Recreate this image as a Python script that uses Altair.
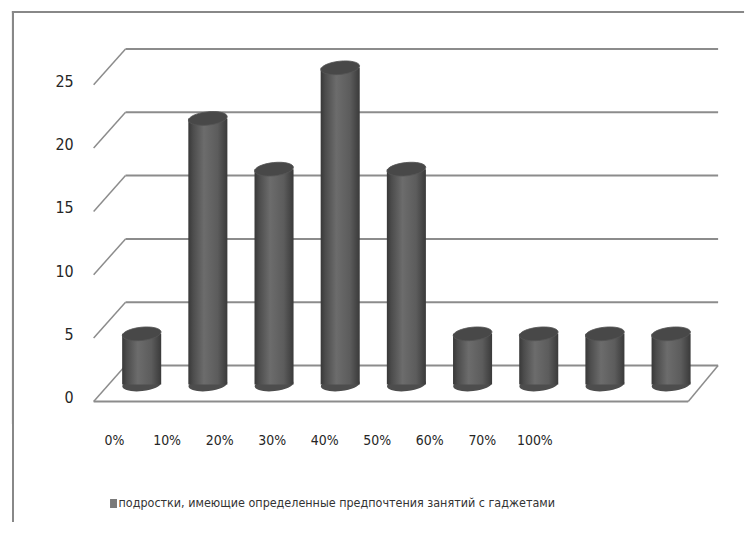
import altair as alt
import pandas as pd

categories = ["0%", "10%", "20%", "30%", "40%", "50%", "60%", "70%", "100%"]
values = [4, 21, 17, 25, 17, 4, 4, 4, 4]
ticks = [0, 5, 10, 15, 20, 25]
series_name = "подростки, имеющие определенные предпочтения занятий с гаджетами"

df = pd.DataFrame({"category": categories, "value": values})
tick_df = pd.DataFrame({"tick": ticks})

FONT = "Liberation Sans Narrow, DejaVu Sans Condensed, Arial Narrow, sans-serif"
GRID = "#8c8c8c"
W = 738
H1 = 415
H2 = 98

yscale = alt.Scale(domain=[0, 25], range=[392, 74])
xband = alt.Scale(type="band", domain=categories, range=[100, 698],
                  paddingInner=0.41, paddingOuter=0.205)
xlab = alt.Scale(type="point", domain=categories, range=[106, 528], padding=0)

BACK_DY = -36
MID_DY = -17

base = alt.Chart(tick_df)
zero = base.transform_filter(alt.datum.tick == 0)

back = base.mark_rule(color=GRID, strokeWidth=2, yOffset=BACK_DY).encode(
    y=alt.Y("tick:Q", scale=yscale, axis=None),
    x=alt.value(117), x2=alt.value(712))

diag = base.mark_rule(color=GRID, strokeWidth=1.5, y2Offset=BACK_DY).encode(
    y=alt.Y("tick:Q", scale=yscale, axis=None), y2="tick:Q",
    x=alt.value(85), x2=alt.value(117))

floor_front = zero.mark_rule(color=GRID, strokeWidth=2).encode(
    y=alt.Y("tick:Q", scale=yscale, axis=None), x=alt.value(85), x2=alt.value(682))
floor_right = zero.mark_rule(color=GRID, strokeWidth=1.5, y2Offset=BACK_DY).encode(
    y=alt.Y("tick:Q", scale=yscale, axis=None), y2="tick:Q",
    x=alt.value(682), x2=alt.value(712))

ylabels = base.mark_text(align="right", baseline="middle", dy=-3,
                         font=FONT, fontSize=16, color="#262626").encode(
    y=alt.Y("tick:Q", scale=yscale, axis=None),
    x=alt.value(65), text="tick:Q")

grad = {"gradient": "linear", "x1": 0, "x2": 1, "y1": 0, "y2": 0, "stops": [
    {"offset": 0, "color": "#383838"},
    {"offset": 0.12, "color": "#4c4c4c"},
    {"offset": 0.4, "color": "#6c6c6c"},
    {"offset": 0.75, "color": "#5c5c5c"},
    {"offset": 1, "color": "#3a3a3a"}]}

ELLIPSE = "M-1,0A1,0.34,0,1,1,1,0A1,0.34,0,1,1,-1,0Z"

cyl = alt.Chart(df).transform_calculate(base0="0")

bottoms = cyl.mark_point(shape=ELLIPSE, size=1530, filled=True, color="#4d4d4d",
                         opacity=1, strokeWidth=0, yOffset=MID_DY, angle=354).encode(
    x=alt.X("category:N", scale=xband, axis=None),
    y=alt.Y("base0:Q", scale=yscale, axis=None))

bars = cyl.mark_bar(fill=grad, yOffset=MID_DY, y2Offset=MID_DY).encode(
    x=alt.X("category:N", scale=xband, axis=None),
    y=alt.Y("value:Q", scale=yscale, axis=None), y2="base0:Q")

tops = cyl.mark_point(shape=ELLIPSE, size=1530, filled=True, color="#484848",
                      opacity=1, stroke="#555555", strokeWidth=0.8,
                      yOffset=MID_DY, angle=354).encode(
    x=alt.X("category:N", scale=xband, axis=None),
    y=alt.Y("value:Q", scale=yscale, axis=None))

frame_top = base.mark_rule(color="#888888", strokeWidth=2).encode(
    x=alt.value(3), x2=alt.value(738), y=alt.value(1))
frame_left1 = base.mark_rule(color="#888888", strokeWidth=2).encode(
    x=alt.value(4), y=alt.value(0), y2=alt.value(H1))

top_view = alt.layer(
    frame_top, frame_left1, back, diag, floor_front, floor_right, ylabels,
    bottoms, bars, tops
).properties(width=W, height=H1)

xlabels = alt.Chart(df).mark_text(baseline="middle", font=FONT, fontSize=14,
                                  color="#262626").encode(
    x=alt.X("category:N", scale=xlab, axis=None),
    y=alt.value(17), text="category:N")

legend_sq = base.mark_rect(color="#7a7a7a").encode(
    x=alt.value(102), x2=alt.value(108), y=alt.value(75), y2=alt.value(84))
legend_txt = alt.Chart(pd.DataFrame({"name": [series_name]})).mark_text(
    align="left", baseline="middle", font=FONT, fontSize=12.5, color="#333333").encode(
    x=alt.value(110), y=alt.value(79), text="name:N")
frame_left2 = base.mark_rule(color="#888888", strokeWidth=2).encode(
    x=alt.value(4), y=alt.value(0), y2=alt.value(H2))

bottom_view = alt.layer(frame_left2, xlabels, legend_sq, legend_txt).properties(
    width=W, height=H2)

chart = alt.vconcat(top_view, bottom_view, spacing=0, bounds="flush").properties(
    padding=0
).configure_view(stroke="transparent")

chart.save("out.html", embed_options={"renderer": "svg", "actions": False})
